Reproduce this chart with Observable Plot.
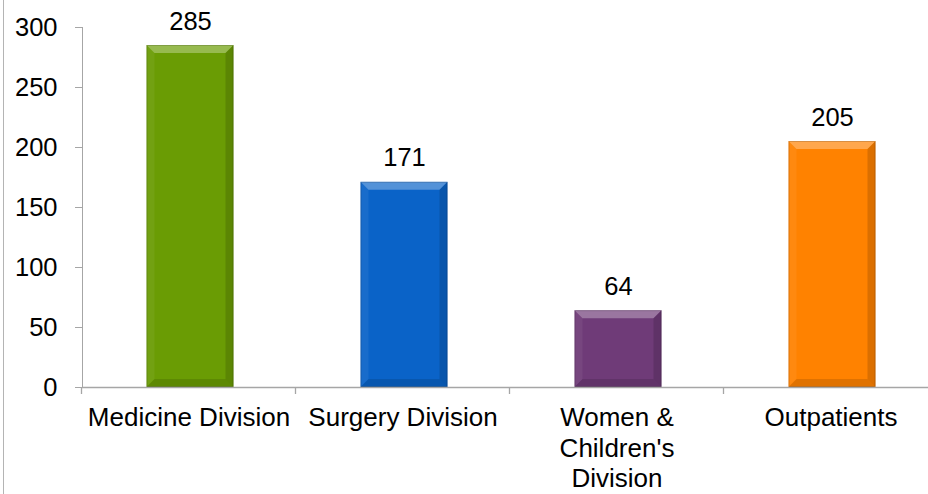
<!DOCTYPE html>
<html>
<head>
<meta charset="utf-8">
<script src="https://cdn.jsdelivr.net/npm/d3@7"></script>
<script src="https://cdn.jsdelivr.net/npm/@observablehq/plot@0.6"></script>
<style>
  html, body { margin: 0; padding: 0; background: #fff; }
  #wrap { position: relative; width: 928px; height: 494px; }
  #edge { position: absolute; left: 3px; top: 0; width: 1px; height: 494px; background: #b4b4b4; }
  svg { font-family: "Liberation Sans", Arial, sans-serif; }
</style>
</head>
<body>
<div id="wrap"><div id="edge"></div></div>
<script>
const categories = ["Medicine Division", "Surgery Division", "Women &\nChildren's\nDivision", "Outpatients"];
const values = [285, 171, 64, 205];
const colors = ["#6a9c04", "#0a63c8", "#6f3b78", "#ff8200"];
const yTicks = [0, 50, 100, 150, 200, 250, 300];

const data = categories.map((c, i) => ({category: c, value: values[i], color: colors[i]}));

const axisGray = "#a6a6a6";

const plot = Plot.plot({
  width: 928,
  height: 494,
  marginLeft: 82,
  marginRight: 0,
  marginTop: 27,
  marginBottom: 107,
  style: {fontFamily: '"Liberation Sans", Arial, sans-serif', fontSize: "26px", color: "#000", background: "transparent"},
  x: {type: "band", domain: categories, range: [82, 938], paddingInner: 0.593, paddingOuter: 0.2965, align: 0.5},
  y: {domain: [0, 300], range: [387, 27]},
  marks: [
    Plot.frame({anchor: "left", stroke: axisGray, strokeOpacity: 1}),
    Plot.barY(data, {x: "category", y: "value", fill: "color", dx: 1.5}),
    Plot.ruleY([0], {stroke: axisGray, strokeWidth: 1.3}),
    Plot.text(data, {x: "category", y: "value", text: d => String(d.value), lineAnchor: "bottom", dy: -16, dx: 1.5, fontSize: 25.5, fill: "#000"}),
    Plot.axisY({ticks: yTicks, tickSize: 7, tickPadding: 18, stroke: axisGray, fontSize: 25.5, fill: "#000", tickFormat: d => String(d), label: null}),
    Plot.axisX({tickSize: 0, tickPadding: 17, fontSize: 26, fill: "#000", lineHeight: 1.17, label: null})
  ]
});

document.getElementById("wrap").appendChild(plot);

// Bevel effect on bars
const svg = d3.select(plot);
svg.selectAll('g[aria-label="bar"] rect').each(function () {
  const r = d3.select(this);
  const x = +r.attr("x"), y = +r.attr("y"), w = +r.attr("width"), h = +r.attr("height");
  const g = d3.select(this.parentNode);
  const tr = r.attr("transform");
  const b = Math.min(8, h / 2);
  const polys = [
    {pts: [[x, y], [x + w, y], [x + w - b, y + b], [x + b, y + b]], fill: "#fff", op: 0.3},
    {pts: [[x, y + h], [x + w, y + h], [x + w - b, y + h - b], [x + b, y + h - b]], fill: "#000", op: 0.12},
    {pts: [[x, y], [x + b, y + b], [x + b, y + h - b], [x, y + h]], fill: "#fff", op: 0.06},
    {pts: [[x + w, y], [x + w - b, y + b], [x + w - b, y + h - b], [x + w, y + h]], fill: "#000", op: 0.14}
  ];
  for (const p of polys) {
    const el = g.append("polygon")
      .attr("points", p.pts.map(q => q.join(",")).join(" "))
      .attr("fill", p.fill)
      .attr("fill-opacity", p.op);
    if (tr) el.attr("transform", tr);
  }
  g.append("rect").attr("x", x + 0.5).attr("y", y + 0.5).attr("width", w - 1).attr("height", h - 1)
    .attr("fill", "none").attr("stroke", "#000").attr("stroke-opacity", 0.15).attr("transform", tr);
});

// Category boundary ticks on the x axis
const xs = plot.scale("x");
const ys = plot.scale("y");
const y0 = ys.apply(0);
const gap = (xs.step - xs.bandwidth) / 2;
const bounds = categories.map(c => xs.apply(c) - gap).concat([xs.apply(categories[categories.length - 1]) + xs.bandwidth + gap]);
const tg = svg.append("g");
for (const bx of bounds) {
  tg.append("line").attr("x1", bx).attr("x2", bx).attr("y1", y0).attr("y2", y0 + 7)
    .attr("stroke", axisGray).attr("stroke-width", 1.3);
}
</script>
</body>
</html>
